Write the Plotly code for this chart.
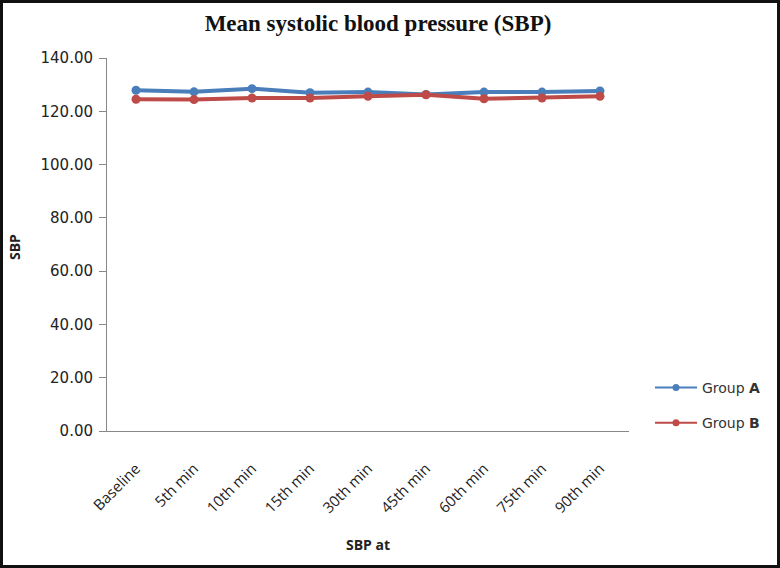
import plotly.graph_objects as go

categories = ["Baseline", "5th min", "10th min", "15th min", "30th min",
              "45th min", "60th min", "75th min", "90th min"]
group_a = [127.9, 127.3, 128.5, 127.0, 127.2, 126.3, 127.2, 127.2, 127.6]
group_b = [124.5, 124.4, 125.0, 125.0, 125.6, 126.2, 124.7, 125.0, 125.6]
y_ticks = [0, 20, 40, 60, 80, 100, 120, 140]

BLUE = "#4a7ebb"
RED = "#be4b48"

W, H = 780, 568
L, R, T, B = 107, 151, 58, 137
pw, ph = W - L - R, H - T - B

def px(x):
    return (x - L) / pw

def py(y):
    return (H - B - y) / ph

fig = go.Figure()
fig.add_trace(go.Scatter(
    x=categories, y=group_a, mode="lines+markers", name="Group <b>A</b>",
    line=dict(color=BLUE, width=4), marker=dict(size=9, color=BLUE),
    showlegend=False))
fig.add_trace(go.Scatter(
    x=categories, y=group_b, mode="lines+markers", name="Group <b>B</b>",
    line=dict(color=RED, width=4), marker=dict(size=9, color=RED),
    showlegend=False))
# legend entries (thin line + small marker, like the original key)
fig.add_trace(go.Scatter(
    x=[None], y=[None], mode="lines+markers", name="Group <b>A</b>",
    line=dict(color=BLUE, width=2), marker=dict(size=7, color=BLUE),
    legendgroup="a"))
fig.add_trace(go.Scatter(
    x=[None], y=[None], mode="lines+markers", name="Group <b>B</b>",
    line=dict(color=RED, width=2), marker=dict(size=7, color=RED),
    legendgroup="b"))

fig.update_layout(
    width=W, height=H,
    margin=dict(l=L, r=R, t=T, b=B),
    paper_bgcolor="white", plot_bgcolor="white",
    title=dict(text="<b>Mean systolic blood pressure (SBP)</b>",
               font=dict(family="Liberation Serif", size=23, color="#111"),
               x=px(378), xref="paper", xanchor="center", y=1 - 23 / H, yanchor="middle"),
    xaxis=dict(type="category", range=[-0.5, 8.5], showgrid=False,
               showline=True, linecolor="#888", linewidth=1,
               tickangle=-45, ticks="", ticklabelstandoff=22,
               tickfont=dict(family="Open Sans", size=15, color="#222"),
               title=None),
    yaxis=dict(range=[0, 140], tickvals=y_ticks, ticktext=[f"{v:.2f}" for v in y_ticks],
               showgrid=False, zeroline=False, showline=True, linecolor="#888", linewidth=1,
               ticks="outside", ticklen=7, tickcolor="#888", ticklabelstandoff=3,
               tickfont=dict(family="DejaVu Sans", size=15, color="#222"),
               title=None),
    legend=dict(x=px(650), xanchor="left", y=py(372), yanchor="top",
                font=dict(family="DejaVu Sans", size=14, color="#333"),
                itemwidth=42, tracegroupgap=14, bgcolor="rgba(0,0,0,0)"),
    showlegend=True,
    annotations=[
        dict(text="<b>SBP</b>", x=px(14), y=py(247), xref="paper", yref="paper",
             textangle=-90, showarrow=False, xanchor="center", yanchor="middle",
             font=dict(family="Open Sans", size=14, color="#222")),
        dict(text="<b>SBP at</b>", x=px(368), y=py(544), xref="paper", yref="paper",
             showarrow=False, xanchor="center", yanchor="middle",
             font=dict(family="Open Sans", size=14, color="#222")),
    ],
    shapes=[dict(type="rect", xref="paper", yref="paper",
                 x0=px(1.5), x1=px(W - 1.5), y0=py(H - 1.5), y1=py(1.5),
                 line=dict(color="#111", width=3), fillcolor="rgba(0,0,0,0)", layer="above")],
)

fig.write_html(
    "out.html",
    config={"displayModeBar": False},
    post_script="document.body.style.margin='0';document.body.style.overflow='hidden';",
)
